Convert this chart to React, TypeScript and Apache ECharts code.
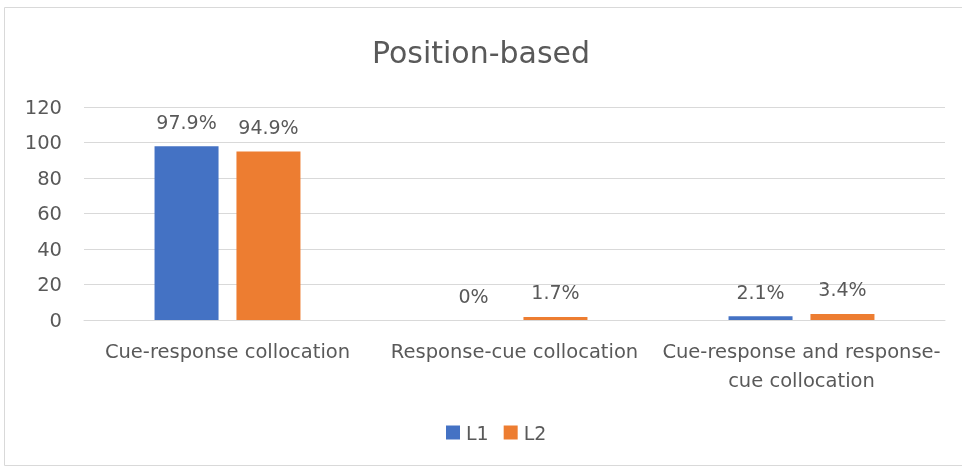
import React, { useEffect, useRef } from "react";
import * as echarts from "echarts";

const categories = [
  "Cue-response collocation",
  "Response-cue collocation",
  "Cue-response and response-cue collocation",
];
const l1Values = [97.9, 0, 2.1];
const l2Values = [94.9, 1.7, 3.4];
const seriesNames = ["L1", "L2"];
const titleText = "Position-based";

const FONT = "DejaVu Sans";
const TEXT = "#595959";

export default function App() {
  const ref = useRef<HTMLDivElement>(null);
  useEffect(() => {
    if (!ref.current) return;
    const chart = echarts.init(ref.current, undefined, { renderer: "svg" });
    const label = {
      show: true,
      position: "top",
      distance: 15,
      color: TEXT,
      fontFamily: FONT,
      fontSize: 19,
      formatter: (p: any) => `${p.value}%`,
    };
    chart.setOption({
      animation: false,
      textStyle: { fontFamily: FONT },
      graphic: [
        {
          type: "rect",
          shape: { x: 4.5, y: 7.5, width: 960, height: 458 },
          style: { fill: "none", stroke: "#d9d9d9", lineWidth: 1 },
          silent: true,
        },
      ],
      title: {
        text: titleText,
        left: "center",
        top: 32,
        textStyle: { fontFamily: FONT, fontSize: 30, fontWeight: "normal", color: TEXT },
      },
      legend: {
        data: seriesNames,
        top: 418,
        left: 441,
        icon: "rect",
        itemWidth: 14,
        itemHeight: 14,
        itemGap: 15,
        textStyle: { fontFamily: FONT, fontSize: 19, color: TEXT, padding: [0, 0, 0, 1] },
      },
      grid: { left: 84, right: 17, top: 107, bottom: 148, containLabel: false },
      xAxis: {
        type: "category",
        data: categories,
        axisTick: { show: false },
        axisLine: { lineStyle: { color: "#d9d9d9" } },
        axisLabel: {
          color: TEXT,
          fontFamily: FONT,
          fontSize: 19.5,
          margin: 17,
          lineHeight: 29,
          interval: 0,
          formatter: (v: string) =>
            v === categories[2] ? "Cue-response and response-\ncue collocation" : v,
        },
      },
      yAxis: {
        type: "value",
        min: 0,
        max: 120,
        interval: 20,
        axisLine: { show: false },
        axisTick: { show: false },
        splitLine: { lineStyle: { color: "#d9d9d9" } },
        axisLabel: { color: TEXT, fontFamily: FONT, fontSize: 19.5, margin: 22 },
      },
      series: [
        {
          name: seriesNames[0],
          type: "bar",
          data: l1Values,
          barWidth: 64,
          barGap: "28%",
          itemStyle: { color: "#4472C4" },
          label,
        },
        {
          name: seriesNames[1],
          type: "bar",
          data: l2Values,
          barWidth: 64,
          itemStyle: { color: "#ED7D31" },
          label,
        },
      ],
    });
    return () => chart.dispose();
  }, []);
  return (
    <div
      ref={ref}
      style={{ position: "fixed", left: 0, top: 0, width: 962, height: 468 }}
    />
  );
}
